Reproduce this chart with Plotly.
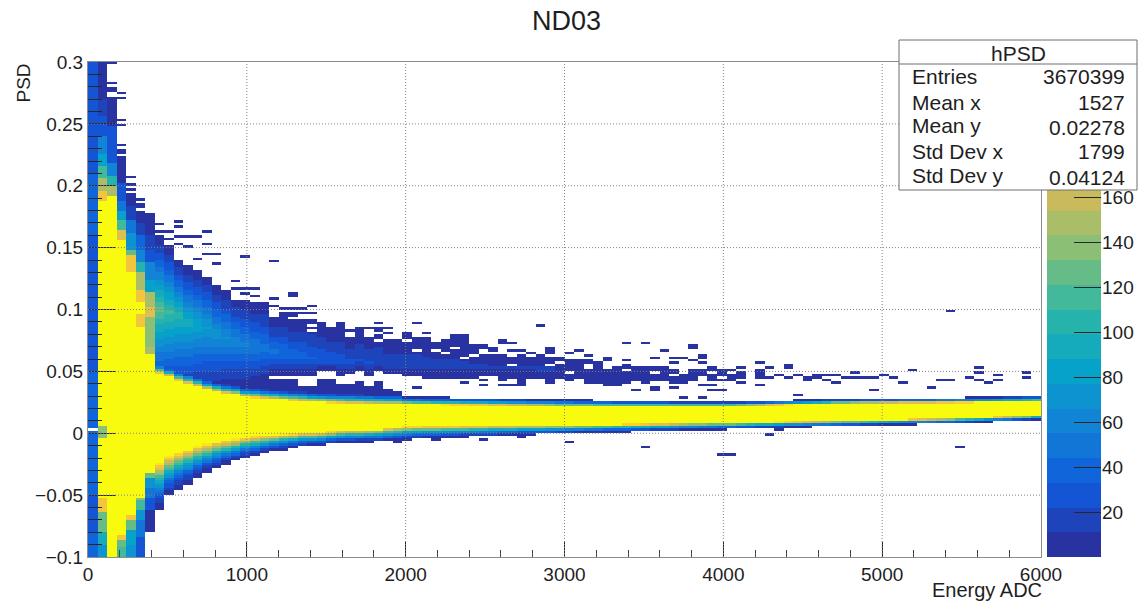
import numpy as np
import plotly.graph_objects as go

# ---------- chart text ----------
title_text = "ND03"
x_title = "Energy ADC"
y_title = "PSD"
x_ticks = [0, 1000, 2000, 3000, 4000, 5000, 6000]
x_labels = ["0", "1000", "2000", "3000", "4000", "5000", "6000"]
y_ticks = [-0.1, -0.05, 0, 0.05, 0.1, 0.15, 0.2, 0.25, 0.3]
y_labels = ["\u22120.1", "\u22120.05", "0", "0.05", "0.1", "0.15", "0.2", "0.25", "0.3"]
bar_ticks = [20, 40, 60, 80, 100, 120, 140, 160, 180, 200]
stats_name = "hPSD"
stats_keys = ["Entries", "Mean x", "Mean y", "Std Dev x", "Std Dev y"]
stats_vals = ["3670399", "1527", "0.02278", "1799", "0.04124"]

# ---------- histogram binning ----------
n_cols, n_rows = 100, 200
x_low, x_high = 0, 6000
y_low, y_high = -0.1, 0.3
z_top = 220
saturated = 219

# ---------- first columns, read as steps from the top of the frame downward ----------
# each: lower edge of a stretch (PSD), count in that stretch
col_edges = {
 0: [.27, .24, .21, .16, .10, .05, .004, .002, -.05, -.08, -.1],
 1: [.27, .255, .24, .225, .215, .205, .195, .189, .007, -.004, -.0512, -.065, -.08, -.09, -.1],
 2: [.2693, .2586, .2478, .2317, .2182, .2075, .1994, .1913, -.1],
 3: [.2223, .202, .1886, .1806, .1725, .1644, .1564, -.082, -.087, -.092, -.1],
 4: [.194, .1832, .1725, .1617, .1483, .143, .1295, -.067, -.07, -.078, -.09, -.1],
 5: [.1795, .1698, .159, .1483, .1375, .1295, .116, .105, .095, .086, -.0512, -.055, -.062, -.07, -.085, -.1],
 6: [.179, .159, .1483, .1375, .124, .1133, .1026, .0945, .0703, .064, -.0328, -.037, -.044, -.052, -.062, -.08],
}
col_counts = {
 0: [28, 32, 30, 33, 30, 32, 35, 0, 34, 32, 38],
 1: [10, 18, 30, 55, 80, 115, 150, 185, 219, 140, 219, 185, 125, 95, 75],
 2: [0, 8, 10, 22, 32, 60, 100, 150, 219],
 3: [0, 8, 22, 50, 80, 120, 170, 219, 185, 130, 110],
 4: [0, 8, 20, 45, 75, 130, 185, 219, 185, 130, 85, 70],
 5: [0, 8, 20, 40, 60, 100, 150, 185, 215, 185, 219, 140, 110, 75, 45, 30],
 6: [0, 8, 18, 30, 55, 85, 150, 170, 135, 150, 219, 130, 75, 45, 25, 8],
}

# ---------- gamma band, columns 7 to 99 ----------
gamma_top = [.0484,.0457,.0424,.0403,.038,.0355,.0336,.0322,.0312,.0295,
 .0288,.0282,.0276,.027,.0265,.026,.0255,.0251,.0247,.0245,
 .0243,.0241,.0238,.0236,.0235,.0234,.0234,.0233,.0232,.0231,
 .023,.0229,.0228,.0227,.0226,.0225,.0224,.0222,.0221,.022,
 .0219,.0218,.0216,.0215,.0215,.0215,.0215,.0215,.0215,.0216,
 .0216,.0216,.0216,.0217,.0217,.0217,.0218,.0218,.0218,.0218,
 .0219,.022,.0222,.0224,.0226,.0228,.023,.0232,.0234,.0236,
 .0238,.024,.0241,.0242,.0243,.0244,.0245,.0245,.0246,.0246,
 .0247,.0247,.0248,.0248,.0249,.0249,.025,.025,.0251,.0251,
 .0252,.0252,.0253]
gamma_bot = [-.0248,-.0189,-.0157,-.013,-.0108,-.009,-.0073,-.006,-.0049,-.0038,
 -.0027,-.002,-.0015,-.001,-.0005,0,.0002,.0005,.0013,.0018,
 .0022,.0025,.0028,.003,.004,.0048,.0053,.0054,.0055,.0055,
 .0056,.0057,.0058,.0059,.006,.006,.0061,.0062,.0062,.0063,
 .0063,.0064,.0064,.0065,.0066,.0067,.0068,.0069,.007,.0071,
 .0072,.0074,.0075,.0076,.0078,.0079,.0081,.0082,.0083,.0083,
 .0084,.0085,.0086,.0088,.0089,.009,.0092,.0093,.0095,.0096,
 .0098,.0099,.0101,.0102,.0103,.0105,.0105,.0107,.0109,.0112,
 .0114,.0116,.0118,.012,.0122,.0125,.0127,.0129,.0132,.0135,
 .0138,.0141,.0145]
halo_top = [.060,.058,.057,.055,.052,.050,.048,.047,.046,.044,.043,.042,
 .0437,.0435,.0435,.039,.039,.044,.0445,.041,.040,.043,.0385,.042,.037,.034,
 .0295,.0294,.0293,.0291,.029,.0289,.0288,.0287,.0286,.0285,
 .0283,.0281,.028,.0279,.0278,.0276,.0274,.0272,.027,.027,
 .0268,.0267,.0266,.0265,.0264,.0263,.0262,.0261,.026,.026,
 .026,.0259,.0258,.0257,.0257,.0258,.026,.0262,.0264,.0266,
 .0268,.027,.0272,.0274,.0276,.0277,.0278,.0279,.028,.028,
 .0281,.0281,.0282,.0282,.0283,.0284,.0285,.0286,.0288,.029,
 .0292,.0294,.0296,.0298,.03,.0303,.0307]
halo_bot = [-.062,-.051,-.0458,-.0417,-.0364,-.0323,-.0283,-.0256,-.0229,-.0202,
 -.0183,-.0162,-.0148,-.0135,-.0121,-.0108,-.0102,-.0095,-.0088,-.008,
 -.0077,-.0074,-.0071,-.0068,-.0066,-.0064,
 -.0050,-.0047,-.0044,-.0041,-.0038,-.0035,-.0032,-.0029,-.0026,-.0023,
 -.002,-.0017,-.0014,-.0012,-.001,-.0008,-.0004,-.0002,0,
 .0002,.0004,.0006,.0008,.001,.0012,.0014,.0016,.0018,.002,
 .0022,.0024,.0026,.0028,.003,.0032,
 .0034,.0036,.0038,.004,.0042,.0044,.0046,.0048,.005,.0052,
 .0054,.0056,.0058,.006,.0062,.0064,.0066,
 .0068,.007,.0071,.0072,
 .0074,.0076,.0079,.0082,.0085,.0088,.0091,.0094,.0097,.01,.0105,.0113]
halo_power = 1.6
ramp_width = .0085
shelf_count = 6

# ---------- neutron band, columns 7 to 75 ----------
band_top = [.159,.151,.140,.135,.132,.127,.120,.115,.109,.108,.105,
 .105,.093,.095,.0916,.0916,.0916,.0897,.0857,.0857,.0781,.0835,.0787,.084,.076,.076,.0778,.0781,.0776,.0746,.0768,.0781,.0795,.0728,
 .0646,.0646,.0646,.062,.0635,.062,.0633,.062,.0566,.0598,.0598,.0592,.0579,.0539,.0544,.0552,.0539,.0539,.0533,.0533,.0517,.047,.0517,
 .0512,.0485,.049,.0485,.0493,.0463,.0477,.0466,.0499,.0463,.0485,.0437]
band_bot = [.030,.030,.030,.030,.032,.033,.034,.035,.036,.037,.038,.040,
 .0465,.0465,.047,.0465,.047,.049,.049,.047,.048,.049,.047,.049,.0475,.048,.046,
 .045,.0445,.0445,.0443,.0441,.044,.0438,
 .0458,.0458,.0426,.0445,.0404,.0445,.0445,.0404,.0445,.042,.0431,.041,.0404,.039,.04,.0404,.043,.0404,.0418,.0418,.04,.0404,.0426,
 .0463,.0423,.0423,.0423,.0437,.0431,.0437,.0445,.0472,.0431,.0453,.0412]
band_peak = [125,115,105,95,88,80,74,68,64,60,
 55,50,47,45,41,38,35,32,30,28,
 26,25,23,22,21,20,19,18,17,16,
 15,14,13,13,13,13,13,13,13,13,
 13,13,8,8,8,8,8,8,8,8,
 8,8,8,8,8,8,8,8,8,8,
 8,8,8,8,8,8,8,8,8]
band_peak_y = [.100,.098,.095,.090,.088,.085,.080,.078,.074,.072,
 .070,.068,.066,.064,.063,.062,.060,.060,.059,.059,
 .058,.058,.057,.057,.056,.056,.056,.056,.055,.055,
 .055,.055,.054,.054,.054,.053,.053,.053,.053,.053,
 .052,.052,.052,.052,.051,.050,.050,.050,.049,.049,
 .049,.049,.048,.048,.048,.048,.047,.047,.047,.047,
 .047,.046,.046,.046,.046,.046,.045,.045,.045]
band_power = 1.2

# ---------- isolated cells above / below the bands (column, PSD) ----------
lone_col = [2,2,2,2,2, 3,3,3,3,3,3,3,3, 4,4,4,4, 5,5,5, 7,7, 8,8, 9,9,9,9, 10,10, 11,11, 12,12,12, 13,13,
 15,15, 16,16,16, 17,17, 19,19, 21, 23,
 19,19,20,20,21,21,21,21,22,22,23,23,26,26,27,28,29,30,30,31,31,33,
 33,33,34,35,38,39,39,40,43,43,47,48,48,51,52,56,56,58,60,63,63,64,
 34,39,41,45,45,55,59,61,62,64,65,66,
 50,58,41,45,32,33,36,67,
 41,41,42,42,44,44,45,46,48,48,48,49,49,50,41,41,43,44,52,54,54,56,57,59,59,60,61,61,62,63,63,
 64,64,64,65,65,65,66,67,68,68,70,70,70,70,71,73,73,75,76,76,77,77,78,78,79,80,80,81,82,82,83,84,85,86,
 88,89,90,90,92,93,93,93,94,95,95,98,98,
 91,71,72,66,74]
lone_psd = [.299,.2833,.279,.2766,.2712, .2747,.2712,.2524,.2484,.2336,.2298,.2263,.2236, .2061,.2013,.1967,.1932, .1886,.1854,.183,
 .1698,.1622, .1636,.1577, .1711,.1677,.1585,.1537, .159,.151, .159,.1416, .1631,.1523,.1456, .1456,.1375,
 .1227,.1173, .1429,.1173,.112, .1173,.1106, .1389,.1093, .112, .1031,
 .1091,.1037,.101,.097,.1112,.1018,.097,.0943,.1002,.0964,.1032,.0964,.0897,.0867,.0827,.0849,.0841,.0889,.0849,.0849,.0803,.0803,
 .08,.0775,.0888,.0818,.0781,.0794,.0727,.0713,.0754,.0722,.0875,.0681,.066,.0660,.0625,.0735,.0587,.0727,.0678,.07,.0592,.0614,
 .0364,.0404,.039,.0418,.0385,.0385,.0358,.0369,.029,.0285,.0383,.0356,
 -.0061,-.0102,-.006,-.0026,-.0072,-.006,-.0055,-.018,
 .0714,.0687,.0687,.0673,.0722,.0672,.0673,.0646,.0679,.066,.0646,.0619,.0593,.0654,.0439,.0391,.0391,.0391,.0625,.0611,.0592,.0584,.0358,.0614,.0369,.0679,.0614,.0566,.06,.0695,.0587,
 .062,.0571,.0383,.0533,.0512,.0351,.0517,.0506,.0533,.0404,.0571,.0506,.0485,.0383,.0525,.056,.0525,.0437,.0477,.045,.0472,.0426,.0464,.0418,.0458,.0485,.0445,.045,.0345,.0458,.0466,.0458,.041,.0507,
 .037,.0437,.0437,.0986,.045,.0534,.0499,.0426,.0418,.0464,.0437,.0491,.0458,
 -.0109,-.0012,.002,-.0179,.0305]
lone_count = [5] * len(lone_col)

# ---------- white slits inside the neutron band (column, PSD) ----------
slit_col = [23,23,30,30,33,34,36,37,38,39,39,40,40,44,48,49,50,52,52,54,54,56,59,61,66,69,72]
slit_psd = [.0876,.083,.0808,.0749,.0741,.0668,.0674,.0652,.0695,.0728,.0612,.0706,.0634,.0552,.0552,.0566,.0498,.0552,.0533,.0566,.0525,.0512,.0498,.0479,.0455,.0445,.0485]

# ---------- build the histogram from the arrays above ----------
x_centers = x_low + (np.arange(n_cols) + 0.5) * (x_high - x_low) / n_cols
y_centers = y_low + (np.arange(n_rows) + 0.5) * (y_high - y_low) / n_rows
z = np.full((n_rows, n_cols), np.nan)

for c, edges in col_edges.items():
    upper = 0.3
    for low, count in zip(edges, col_counts[c]):
        if count > 0:
            z[(y_centers <= upper) & (y_centers > low), c] = count
        upper = low

for i in range(93):
    c = i + 7
    col = np.full(n_rows, np.nan)
    yellow = (y_centers <= gamma_top[i]) & (y_centers >= gamma_bot[i])
    ramp_top = min(halo_top[i], gamma_top[i] + ramp_width)
    col[(y_centers > ramp_top) & (y_centers <= halo_top[i])] = shelf_count
    above = (y_centers > gamma_top[i]) & (y_centers <= ramp_top)
    below = (y_centers < gamma_bot[i]) & (y_centers >= halo_bot[i])
    col[above] = 1 + 200 * ((ramp_top - y_centers[above]) / (ramp_top - gamma_top[i])) ** halo_power
    col[below] = 1 + 200 * ((y_centers[below] - halo_bot[i]) / (gamma_bot[i] - halo_bot[i])) ** halo_power
    if i < len(band_top):
        t, b, p, py = band_top[i], band_bot[i], band_peak[i], band_peak_y[i]
        up = (y_centers > py) & (y_centers <= t)
        dn = (y_centers <= py) & (y_centers >= b)
        neutron = np.full(n_rows, np.nan)
        neutron[up] = 1 + (p - 1) * ((t - y_centers[up]) / (t - py)) ** band_power
        neutron[dn] = 1 + (p - 1) * ((y_centers[dn] - b) / (py - b)) ** band_power
        col = np.fmax(col, neutron)
    col[yellow] = saturated
    z[:, c] = col

for c, p in zip(slit_col, slit_psd):
    z[int((p - y_low) / (y_high - y_low) * n_rows), c] = np.nan
for c, p, v in zip(lone_col, lone_psd, lone_count):
    r = int((p - y_low) / (y_high - y_low) * n_rows)
    if 0 <= r < n_rows:
        z[r, c] = v

# ---------- ROOT "bird" palette, 20 contour levels ----------
bird_r = [.155, .0592, .0780, .0232, .1802, .5301, .8186, .9956, .9764]
bird_g = [.200, .3599, .5041, .6419, .7178, .7492, .7328, .7862, .9832]
bird_b = [.630, .8684, .8385, .7914, .6425, .4662, .3499, .1968, .0539]
n_levels = 20
stops = np.linspace(0, 1, 9)
scale = []
for i in range(n_levels):
    t = i / (n_levels - 1)
    rgb = [int(round(255 * np.interp(t, stops, ch))) for ch in (bird_r, bird_g, bird_b)]
    col = f"rgb({rgb[0]},{rgb[1]},{rgb[2]})"
    scale += [[i / n_levels, col], [(i + 1) / n_levels, col]]

# ---------- layout geometry in window pixels ----------
W, H = 1141, 604
L, R, T, B = 88, 1041, 62, 557
BAR_L, BAR_R = 1047, 1101
SPAN = BAR_R - L
DH = B - T
px = lambda v: (v - L) / SPAN
py_ = lambda v: (B - v) / DH
FONT = "Liberation Sans"
INK = "rgb(30,30,30)"
FRAME = "rgb(140,140,140)"
GRID = "rgb(130,130,130)"
DOT = "1px,2px"

fig = go.Figure()
fig.add_trace(go.Heatmap(x=x_centers, y=y_centers, z=z, zmin=0, zmax=z_top, colorscale=scale,
                         showscale=False, zsmooth=False, hoverongaps=False))
levels = (np.arange(n_levels) + 0.5) * z_top / n_levels
fig.add_trace(go.Heatmap(x=[0], y=levels, z=[[v] for v in levels], zmin=0, zmax=z_top, colorscale=scale,
                         showscale=False, xaxis="x2", yaxis="y2", zsmooth=False))

shapes = []
for v in x_ticks[1:-1]:
    shapes.append(dict(type="line", xref="x", yref="paper", x0=v, x1=v, y0=0, y1=1,
                       line=dict(color=GRID, width=1, dash=DOT), layer="above"))
for v in y_ticks[1:-1]:
    shapes.append(dict(type="line", xref="x", yref="y", x0=x_low, x1=x_high, y0=v, y1=v,
                       line=dict(color=GRID, width=1, dash=DOT), layer="above"))
BOX_L, BOX_R, BOX_T, BOX_B, BOX_HEAD = 899, 1137, 40, 190, 64
shapes.append(dict(type="rect", xref="paper", yref="paper", x0=px(BOX_L), x1=px(BOX_R), y0=py_(BOX_B), y1=py_(BOX_T),
                   fillcolor="white", line=dict(color="rgb(110,110,110)", width=1), layer="above"))
shapes.append(dict(type="line", xref="paper", yref="paper", x0=px(BOX_L), x1=px(BOX_R), y0=py_(BOX_HEAD), y1=py_(BOX_HEAD),
                   line=dict(color="rgb(110,110,110)", width=1), layer="above"))

def note(text, xp, yp, size=18, xanchor="left", **kw):
    return dict(text=text, xref="paper", yref="paper", x=px(xp), y=py_(yp), showarrow=False,
                xanchor=xanchor, yanchor="middle", font=dict(family=FONT, size=size, color=INK), **kw)

annotations = [note(title_text, 566, 21, size=27, xanchor="center"),
               note(x_title, 1044, 590, size=20, xanchor="right"),
               note(stats_name, 1018, 53, size=21, xanchor="center")]
annotations.append(dict(text=y_title, xref="paper", yref="paper", x=px(23), y=py_(62), showarrow=False,
                        textangle=-90, xanchor="center", yanchor="top",
                        font=dict(family=FONT, size=19, color=INK)))
key_rows = [77, 103, 125, 152, 175]
val_rows = [77, 103, 128, 152, 177]
for k, ky, s, vy in zip(stats_keys, key_rows, stats_vals, val_rows):
    annotations.append(note(k, 910, ky, size=21))
    annotations.append(note(s, 1127, vy, size=21, xanchor="right"))

common = dict(showline=True, linecolor=FRAME, linewidth=1, mirror=True, showgrid=False, zeroline=False,
              tickcolor="rgb(40,40,40)", tickwidth=1, tickfont=dict(family=FONT, size=19, color=INK))
fig.update_layout(
    width=W, height=H, autosize=False, paper_bgcolor="white", plot_bgcolor="white",
    margin=dict(l=L, r=W - BAR_R, t=T, b=H - B, autoexpand=False, pad=0),
    showlegend=False, shapes=shapes, annotations=annotations,
    xaxis=dict(range=[x_low, x_high], tickmode="array", tickvals=x_ticks, ticktext=x_labels, ticks="inside", ticklen=15,
               minor=dict(tickmode="linear", tick0=0, dtick=200, ticks="inside", ticklen=7, tickcolor="rgb(70,70,70)"),
               domain=[0, (R - L) / SPAN], **common),
    yaxis=dict(range=[y_low, y_high], tickmode="array", tickvals=y_ticks, ticktext=y_labels, ticks="inside", ticklen=28,
               minor=dict(tickmode="linear", tick0=0, dtick=0.01, ticks="inside", ticklen=14, tickcolor="rgb(40,40,40)"),
               domain=[0, 1], **common),
    xaxis2=dict(domain=[(BAR_L - L) / SPAN, 1], anchor="y2", showticklabels=False, ticks="", showgrid=False,
                zeroline=False, range=[-0.5, 0.5], showline=False),
    yaxis2=dict(domain=[0, 1], anchor="x2", side="right", range=[0, z_top], tickmode="array", tickvals=bar_ticks,
                ticks="inside", ticklen=27, tickcolor="rgb(40,40,40)", tickwidth=1, showgrid=False, zeroline=False,
                showline=False, tickfont=dict(family=FONT, size=19, color=INK)),
)
fig.write_html("out.html", config={"displayModeBar": False},
               post_script="document.body.style.margin='0';document.documentElement.style.overflow='hidden';")
